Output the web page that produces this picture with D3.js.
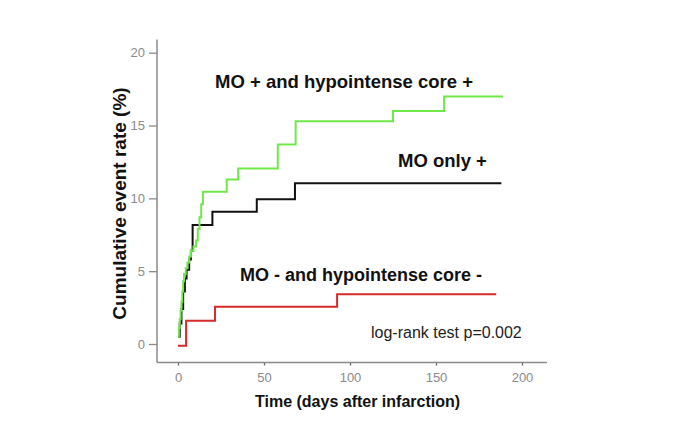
<!DOCTYPE html>
<html>
<head>
<meta charset="utf-8">
<script src="https://cdn.jsdelivr.net/npm/d3@7"></script>
<style>
  html, body { margin: 0; padding: 0; background: #fff; }
  svg { display: block; font-family: "Liberation Sans", Arial, sans-serif; }
</style>
</head>
<body>
<svg id="chart" width="685" height="429"></svg>
<script>
// ---- data ----
const xTicks = [0, 50, 100, 150, 200];
const yTicks = [0, 5, 10, 15, 20];

// MO + and hypointense core +  (green)
const greenDays  = [0, 0.5, 1, 1.5, 2, 2.5, 3, 3.5, 4.5, 5.5, 6.5, 7.5, 9, 10.5, 11.5, 12.5, 13.5, 14.5, 28.3, 35, 58, 68.4, 125, 154.7, 189];
const greenRates = [0.5, 1.1, 1.7, 2.3, 2.9, 3.6, 4.3, 4.8, 5.2, 5.6, 6.0, 6.4, 6.7, 7.1, 7.9, 8.7, 9.6, 10.45, 11.3, 12.05, 13.7, 15.3, 16.0, 17.0, 17.0];

// MO only +  (black)
const blackDays  = [0, 1, 2, 3, 4, 5, 6.5, 7.5, 8.5, 20, 45.8, 68, 188];
const blackRates = [0.5, 1.4, 2.4, 3.6, 4.5, 5.1, 5.8, 6.4, 8.17, 9.08, 9.93, 11.03, 11.03];

// MO - and hypointense core -  (red)
const redDays  = [0, 4.7, 21.5, 92.5, 185];
const redRates = [-0.12, 1.6, 2.56, 3.41, 3.41];

const seriesLabels = ["MO + and hypointense core +", "MO only +", "MO - and hypointense core -"];
const noteText = "log-rank test p=0.002";
const xTitle = "Time (days after infarction)";
const yTitle = "Cumulative event rate (%)";

// ---- layout ----
const svg = d3.select("#chart");
const x = d3.scaleLinear().domain([0, 200]).range([178, 522]);
const y = d3.scaleLinear().domain([0, 20]).range([344, 52.7]);
const xAxisExtent = [-12.2, 214.5];
const yAxisExtent = [-1.27, 20.9];
const axisColor = "#8a8a8a";

// y axis
const yAxisX = x(xAxisExtent[0]);
const gy = svg.append("g").attr("transform", `translate(${yAxisX},0)`)
  .call(d3.axisLeft(y).tickValues(yTicks).tickSize(8).tickPadding(4).tickSizeOuter(0));
gy.select(".domain").remove();
gy.selectAll(".tick line").attr("stroke", axisColor).attr("stroke-width", 1.3);
gy.selectAll(".tick text").attr("fill", "#8a8a8a").style("font-size", "13px");
svg.append("line")
  .attr("x1", yAxisX).attr("x2", yAxisX)
  .attr("y1", y(yAxisExtent[1])).attr("y2", y(yAxisExtent[0]))
  .attr("stroke", axisColor).attr("stroke-width", 1.5);

// x axis
const xAxisY = y(yAxisExtent[0]);
const gx = svg.append("g").attr("transform", `translate(0,${xAxisY})`)
  .call(d3.axisBottom(x).tickValues(xTicks).tickSize(3).tickPadding(7).tickSizeOuter(0));
gx.select(".domain").remove();
gx.selectAll(".tick line").attr("stroke", "#666").attr("stroke-width", 1.3);
gx.selectAll(".tick text").attr("fill", "#8a8a8a").style("font-size", "13px");
svg.append("line")
  .attr("x1", x(xAxisExtent[0])).attr("x2", x(xAxisExtent[1]))
  .attr("y1", xAxisY).attr("y2", xAxisY)
  .attr("stroke", axisColor).attr("stroke-width", 1.5);

// step curves
const line = d3.line().x(d => x(d[0])).y(d => y(d[1])).curve(d3.curveStepAfter);
const series = [
  { days: redDays, rates: redRates, color: "#d42a2a" },
  { days: blackDays, rates: blackRates, color: "#111111" },
  { days: greenDays, rates: greenRates, color: "#6fe84a" }
];
series.forEach(s => {
  svg.append("path")
    .attr("d", line(d3.zip(s.days, s.rates)))
    .attr("fill", "none")
    .attr("stroke", s.color)
    .attr("stroke-width", 2);
});

// labels
const bold = (t, xx, yy, size) => svg.append("text")
  .attr("x", xx).attr("y", yy).text(t)
  .style("font-size", size + "px").style("font-weight", "bold").attr("fill", "#111");
bold(seriesLabels[0], 215, 88, 18.5);
bold(seriesLabels[1], 398, 167, 18.5);
bold(seriesLabels[2], 240, 281, 18);

svg.append("text").attr("x", 371).attr("y", 338).text(noteText)
  .style("font-size", "16px").attr("fill", "#222");

bold(xTitle, 255, 407, 16);
svg.append("text")
  .attr("transform", "translate(126,203.5) rotate(-90)")
  .attr("text-anchor", "middle")
  .text(yTitle)
  .style("font-size", "19px").style("font-weight", "bold").attr("fill", "#111");
</script>
</body>
</html>
